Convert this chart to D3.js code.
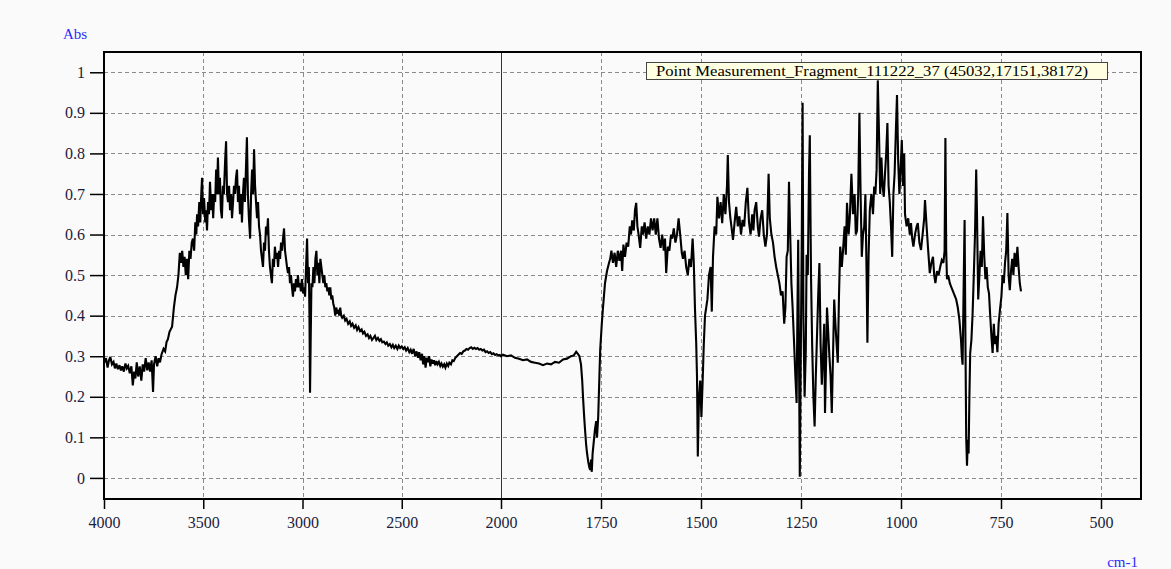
<!DOCTYPE html>
<html><head><meta charset="utf-8">
<script src="https://cdn.jsdelivr.net/npm/d3@7"></script>
<style>
html,body{margin:0;padding:0;background:#fafafa;}
svg{display:block;}
text{font-family:"Liberation Serif","Times New Roman",serif;}
</style></head>
<body>
<svg id="chart" width="1171" height="569"></svg>
<script>
// ---------- data ----------
const xTicks = [4000,3500,3000,2500,2000,1750,1500,1250,1000,750,500];
const yTicks = [0,0.1,0.2,0.3,0.4,0.5,0.6,0.7,0.8,0.9,1];
const legendLabel = "Point Measurement_Fragment_111222_37 (45032,17151,38172)";
const xTitle = "cm-1";
const yTitle = "Abs";

const wavenumber = [
3998,3990,3982,3975,3968,3960,3952,3945,3938,3930,3922,3915,3908,3900,3892,3885,3878,3870,3862,3855,
3848,3842,3835,3828,3820,3812,3805,3798,3790,3782,3775,3768,3760,3753,3748,3740,3732,3725,3718,3710,
3700,3692,3685,3678,3670,3662,3657,3648,3640,3632,3625,3618,3612,3606,3600,3594,3588,3582,3576,3570,
3564,3558,3552,3546,3540,3535,3531,3526,3520,3515,3510,3506,3501,3496,3490,3486,3481,3476,3471,3466,
3460,3455,3450,3445,3440,3435,3431,3426,3421,3416,3411,3406,3401,3396,3390,3385,3380,3375,3370,3365,
3360,3355,3350,3345,3340,3335,3330,3325,3320,3315,3310,3305,3300,3295,3290,3285,3280,3275,3270,3264,
3259,3254,3249,3244,3239,3234,3229,3224,3219,3214,3209,3204,3199,3194,3189,3184,3179,3174,3169,3164,
3159,3154,3149,3144,3139,3134,3128,3123,3118,3113,3108,3103,3098,3093,3088,3083,3078,3073,3068,3063,
3058,3053,3048,3043,3038,3033,3028,3023,3018,3013,3008,3003,2997,2992,2987,2982,2977,2972,2968,2965,
2962,2959,2955,2950,2945,2940,2935,2930,2925,2920,2915,2910,2905,2900,2895,2890,2885,2880,2875,2870,
2865,2860,2855,2850,2845,2840,2835,2830,2825,2820,2815,2810,2805,2800,2792,2785,2778,2770,2762,2755,
2748,2740,2732,2725,2718,2710,2702,2695,2688,2680,2672,2665,2658,2650,2642,2635,2628,2620,2612,2605,
2598,2590,2582,2575,2568,2560,2552,2545,2538,2530,2522,2515,2508,2500,2492,2485,2478,2470,2462,2455,
2448,2440,2432,2425,2418,2412,2405,2398,2392,2386,2380,2374,2368,2362,2356,2350,2344,2338,2332,2326,
2320,2313,2306,2300,2293,2286,2280,2273,2266,2260,2252,2245,2238,2230,2222,2214,2206,2198,2190,2182,
2174,2166,2158,2150,2142,2134,2126,2118,2110,2102,2094,2086,2078,2070,2062,2054,2046,2038,2030,2022,
2014,2006,2000,
1995,1985,1975,1965,1955,1945,1935,1925,1915,1905,1895,1885,1875,1865,1855,1845,1835,1825,1818,1812,
1808,1804,1800,1797,1795,1792,1790,1787,1785,1782,1779,1777,1775,1773,1771,1768,1765,1762,1760,1757,
1754,1752,1748,1745,1740,1735,1730,1727,1724,1720,1716,1712,1708,1704,1700,1697,1694,1690,1686,1682,
1678,1675,1672,1668,1665,1662,1659,1656,1652,1648,1645,1641,1637,1633,1629,1625,1621,1617,1613,1609,
1605,1601,1597,1593,1590,1587,1583,1579,1575,1572,1568,1564,1560,1556,1552,1548,1545,1541,1537,1533,
1529,1525,1521,1518,1515,1512,1510,1508,1505,1502,1499,1496,1493,1490,1487,1484,1480,1476,1473,1470,
1466,1462,1459,1455,1451,1447,1443,1439,1435,1433,1430,1427,1424,1420,1416,1412,1408,1404,1400,1396,
1392,1388,1384,1380,1376,1372,1369,1366,1362,1358,1355,1351,1347,1343,1339,1335,1331,1328,1324,1320,
1316,1312,1308,1304,1300,1296,1292,1289,1286,1283,1280,1277,1274,1271,1268,1264,1261,1259,1257,1255,
1253,1251,1248,1246,1244,1241,1238,1236,1233,1230,1228,1225,1222,1219,1216,1213,1210,1207,1204,1201,
1198,1195,1192,1190,1187,1185,1182,1179,1176,1173,1170,1167,1164,1161,1158,1155,1152,1148,1145,1141,
1138,1135,1131,1128,1124,1120,1116,1113,1110,1107,1104,1101,1098,1095,1092,1089,1086,1084,1081,1078,
1074,1070,1067,1064,1061,1058,1055,1052,1049,1046,1043,1040,1037,1034,1031,1028,1025,1022,1019,1016,
1013,1010,1007,1004,1001,998,995,992,990,986,982,978,975,972,969,965,961,958,954,950,
946,942,940,936,932,928,924,920,917,914,910,906,902,898,894,891,889,887,885,882,
878,874,870,866,862,858,854,850,848,846,843,841,839,837,835,833,831,829,827,824,
821,818,815,812,810,807,804,801,798,795,792,789,786,783,780,777,774,771,768,765,
762,759,756,752,749,746,743,740,737,734,731,728,725,722,719,716,712,709,706,703,
700
];
const absorbance = [
.285,.295,.272,.290,.298,.280,.286,.270,.282,.268,.278,.265,.275,.262,.282,.270,.276,.258,.275,.228,
.262,.245,.285,.250,.275,.240,.280,.262,.295,.265,.285,.262,.290,.212,.280,.300,.275,.295,.285,.305,
.318,.312,.335,.342,.360,.368,.373,.420,.450,.470,.500,.555,.530,.560,.520,.545,.500,.540,.490,.560,
.540,.580,.590,.560,.630,.600,.650,.620,.680,.630,.700,.740,.650,.690,.630,.660,.610,.680,.650,.730,
.660,.700,.640,.700,.680,.760,.700,.790,.700,.740,.660,.640,.720,.700,.780,.830,.700,.680,.720,.660,
.700,.640,.680,.720,.700,.740,.760,.680,.720,.650,.700,.630,.700,.740,.680,.760,.840,.700,.640,.590,
.700,.760,.700,.810,.720,.680,.640,.680,.620,.600,.560,.540,.520,.580,.560,.620,.600,.640,.560,.520,
.500,.480,.540,.520,.570,.540,.555,.520,.560,.540,.580,.560,.590,.615,.560,.540,.520,.505,.520,.480,
.500,.470,.447,.480,.460,.490,.470,.500,.470,.480,.460,.490,.455,.470,.447,.520,.590,.480,.520,.400,
.210,.330,.480,.470,.520,.480,.540,.560,.500,.530,.480,.540,.520,.500,.480,.500,.470,.480,.460,.470,
.450,.470,.440,.450,.430,.420,.400,.420,.405,.415,.400,.420,.400,.395,.400,.388,.392,.380,.386,.375,
.380,.370,.376,.365,.372,.362,.366,.356,.360,.350,.354,.345,.350,.340,.345,.350,.340,.345,.338,.342,
.334,.336,.330,.334,.326,.330,.322,.328,.320,.326,.318,.326,.320,.324,.318,.322,.314,.320,.310,.316,
.306,.318,.300,.312,.296,.310,.290,.306,.280,.300,.272,.296,.285,.300,.275,.292,.282,.290,.278,.288,
.280,.286,.276,.282,.274,.280,.272,.282,.276,.284,.280,.290,.288,.296,.300,.304,.308,.306,.312,.314,
.318,.316,.320,.322,.318,.321,.318,.320,.316,.318,.314,.316,.310,.312,.308,.310,.305,.307,.303,.305,
.302,.303,.300,
.304,.300,.302,.296,.294,.290,.292,.286,.284,.282,.278,.282,.280,.286,.284,.292,.294,.300,.302,.311,
.306,.300,.280,.240,.200,.150,.120,.080,.062,.040,.025,.020,.045,.015,.060,.090,.120,.140,.100,.150,
.250,.316,.380,.420,.480,.510,.530,.540,.560,.530,.555,.520,.560,.535,.560,.510,.575,.545,.580,.570,
.620,.600,.635,.610,.660,.678,.620,.600,.567,.620,.600,.630,.590,.620,.600,.640,.610,.640,.600,.640,
.590,.567,.600,.560,.590,.505,.570,.560,.600,.590,.615,.580,.600,.640,.600,.555,.540,.560,.520,.500,
.540,.520,.590,.530,.415,.333,.250,.053,.200,.240,.150,.235,.330,.400,.420,.440,.500,.520,.410,.545,
.620,.600,.693,.640,.680,.628,.700,.650,.720,.796,.680,.645,.620,.587,.630,.668,.620,.645,.600,.636,
.620,.680,.715,.630,.600,.650,.610,.660,.680,.620,.595,.640,.660,.600,.570,.600,.750,.640,.600,.580,
.545,.520,.500,.480,.450,.460,.380,.420,.545,.560,.730,.600,.480,.420,.350,.250,.185,.400,.587,.300,
.003,.250,.600,.925,.400,.200,.316,.550,.500,.750,.845,.500,.324,.200,.127,.250,.350,.450,.530,.330,
.230,.300,.380,.160,.300,.420,.360,.300,.250,.160,.300,.440,.380,.330,.284,.450,.570,.520,.560,.620,
.550,.678,.600,.640,.750,.650,.700,.600,.610,.700,.900,.700,.545,.600,.620,.700,.500,.333,.550,.660,
.700,.650,.718,.700,.760,.980,.850,.700,.790,.720,.693,.750,.800,.875,.720,.680,.620,.545,.700,.750,
.850,.944,.780,.700,.760,.833,.720,.800,.650,.620,.640,.600,.628,.590,.570,.600,.620,.628,.580,.562,
.600,.640,.685,.620,.560,.505,.530,.545,.500,.480,.510,.500,.520,.537,.530,.560,.838,.560,.490,.500,
.480,.470,.460,.450,.440,.420,.390,.340,.300,.279,.500,.636,.350,.100,.030,.094,.060,.200,.308,.340,
.405,.500,.600,.760,.650,.440,.500,.560,.520,.645,.550,.490,.520,.470,.455,.400,.350,.308,.380,.330,
.350,.310,.380,.420,.447,.500,.480,.530,.560,.653,.500,.463,.510,.540,.500,.555,.520,.570,.520,.480,
.460
];

// ---------- layout ----------
const svg = d3.select("#chart");
const L = 104, T = 52, R = 1141, B = 499;

const x = d3.scaleLinear().domain([4000, 2000, 400]).range([L, 501, R]);
const y = d3.scaleLinear().domain([-0.052, 1.05]).range([B, T]);

svg.append("rect").attr("width",1171).attr("height",569).attr("fill","#fafafa");

// grid
const grid = svg.append("g").attr("stroke","#8a8a8a").attr("stroke-width",1).attr("stroke-dasharray","4,3");
grid.selectAll("line.h").data(yTicks).join("line")
  .attr("x1",L).attr("x2",R)
  .attr("y1",d=>Math.round(y(d))+0.5).attr("y2",d=>Math.round(y(d))+0.5);
grid.selectAll("line.v").data(xTicks.filter(d=>d!==4000 && d!==2000)).join("line")
  .attr("x1",d=>Math.round(x(d))+0.5).attr("x2",d=>Math.round(x(d))+0.5)
  .attr("y1",T).attr("y2",B);

// scale break line at 2000
svg.append("line").attr("x1",Math.round(x(2000))+0.5).attr("x2",Math.round(x(2000))+0.5)
  .attr("y1",T).attr("y2",B).attr("stroke","#333").attr("stroke-width",1);

// spectrum
const pts = wavenumber.map((w,i)=>[w,absorbance[i]]);
svg.append("clipPath").attr("id","clip").append("rect")
  .attr("x",L).attr("y",T).attr("width",R-L).attr("height",B-T);
svg.append("path").datum(pts)
  .attr("clip-path","url(#clip)")
  .attr("fill","none").attr("stroke","#000").attr("stroke-width",2.1)
  .attr("stroke-linejoin","miter").attr("stroke-miterlimit",3)
  .attr("d", d3.line().x(d=>x(d[0])).y(d=>y(d[1])));

// axes
const xAxis = d3.axisBottom(x).tickValues(xTicks).tickSize(10).tickPadding(8).tickFormat(d3.format("d"));
const gx = svg.append("g").attr("transform",`translate(0,${B})`).call(xAxis);
gx.select(".domain").remove();
gx.selectAll(".tick line").attr("stroke","#000").attr("stroke-width",1.5);
gx.selectAll("text").attr("fill","#1c1c3c").attr("font-size",16)
  .attr("font-family","'Liberation Serif',serif");

const yAxis = d3.axisLeft(y).tickValues(yTicks).tickSize(14).tickPadding(5).tickFormat(d=>d3.format("")(+d.toFixed(1)));
const gy = svg.append("g").attr("transform",`translate(${L},0)`).call(yAxis);
gy.select(".domain").remove();
gy.selectAll(".tick line").attr("stroke","#000").attr("stroke-width",1.5);
gy.selectAll("text").attr("fill","#1c1c3c").attr("font-size",16)
  .attr("font-family","'Liberation Serif',serif");

// frame
svg.append("rect").attr("x",L).attr("y",T).attr("width",R-L).attr("height",B-T)
  .attr("fill","none").attr("stroke","#000").attr("stroke-width",2);

// titles
svg.append("text").attr("x",63).attr("y",39).attr("fill","#2a2aff")
  .attr("font-size",15).text(yTitle);
svg.append("text").attr("x",1138).attr("y",567).attr("text-anchor","end")
  .attr("fill","#2a2aff").attr("font-size",15).text(xTitle);

// legend box
const lg = svg.append("g");
lg.append("rect").attr("x",646.5).attr("y",62.5).attr("width",461).attr("height",17)
  .attr("fill","#ffffe1").attr("stroke","#444").attr("stroke-width",1);
lg.append("text").attr("x",656).attr("y",76).attr("fill","#000").attr("font-size",15.5)
  .attr("textLength",432).attr("lengthAdjust","spacingAndGlyphs").text(legendLabel);
</script>
</body></html>
